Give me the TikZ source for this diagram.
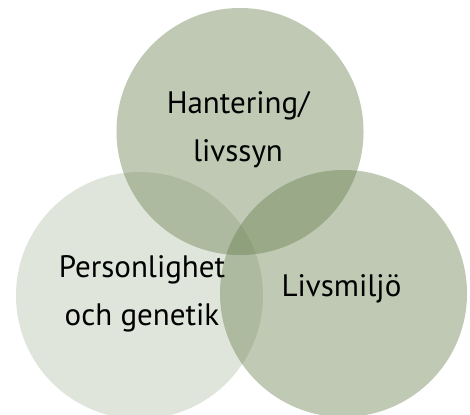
\documentclass[tikz,border=0pt]{standalone}
\usepackage{fontspec}
\setmainfont{PT Sans}
\definecolor{sage}{RGB}{103,127,77}
\begin{document}
\begin{tikzpicture}[x=1pt,y=1pt]
\tikzset{
  venn/.style={circle, inner sep=0pt, minimum size=247pt, fill=sage, draw=none},
  lab/.style={font=\fontsize{31}{48}\selectfont, align=center, text=black, inner sep=0pt}
}
\useasboundingbox (0,0) rectangle (470,414);
\fill[white] (0,0) rectangle (470,414);
\node[venn, fill opacity=0.42] (top) at (240,282.5) {};
\node[venn, fill opacity=0.42] (right) at (343.5,120.5) {};
\node[venn, fill opacity=0.2] (left) at (139.5,118.5) {};
\node[lab] (ttop) at (238,284) {Hantering/\\livssyn};
\node[lab] (tleft) at (142,120.5) {Personlighet\\och genetik};
\node[lab] (tright) at (341.5,125) {Livsmiljö};
\end{tikzpicture}
\end{document}
